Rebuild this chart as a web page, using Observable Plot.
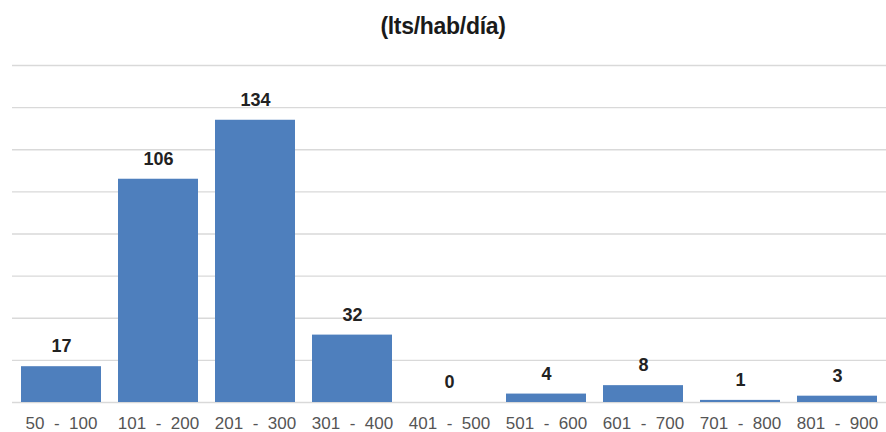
<!DOCTYPE html>
<html>
<head>
<meta charset="utf-8">
<script src="https://cdn.jsdelivr.net/npm/d3@7"></script>
<script src="https://cdn.jsdelivr.net/npm/@observablehq/plot@0.6"></script>
<style>
  body { margin: 0; background: #fff; font-family: "Liberation Sans", Arial, sans-serif; }
  #title { height: 40px; line-height: 52px; text-align: center; font-weight: bold; font-size: 23px; color: #1a1a1a; letter-spacing: -0.3px; }
  #chart svg { display: block; }
</style>
</head>
<body>
<div id="title">(lts/hab/día)</div>
<div id="chart"></div>
<script>
const categories = ["50 - 100", "101 - 200", "201 - 300", "301 - 400", "401 - 500", "501 - 600", "601 - 700", "701 - 800", "801 - 900"];
const values = [17, 106, 134, 32, 0, 4, 8, 1, 3];
const gridTicks = [0, 20, 40, 60, 80, 100, 120, 140, 160];

const data = categories.map((c, i) => ({ range: c, count: values[i] }));

const chart = Plot.plot({
  width: 886,
  height: 392,
  marginLeft: 12,
  marginRight: 0,
  marginTop: 25,
  marginBottom: 30,
  style: { fontFamily: "Liberation Sans, Arial, sans-serif", background: "#fff" },
  x: { domain: categories, paddingInner: 0.175, paddingOuter: 0.0875, label: null },
  y: { domain: [0, 160], axis: null },
  marks: [
    Plot.ruleY(gridTicks, { stroke: "#d9d9d9", strokeWidth: 1.3 }),
    Plot.barY(data, { x: "range", y: "count", fill: "#4e7fbd" }),
    Plot.text(data, { x: "range", y: "count", text: d => String(d.count), dy: -20, fontWeight: "bold", fontSize: 18, fill: "#222" }),
    Plot.axisX({ tickSize: 0, tickPadding: 14, fontSize: 17, fill: "#555", label: null, tickFormat: d => d.replace(" - ", "\u00a0\u00a0-\u00a0\u00a0") })
  ]
});
document.getElementById("chart").appendChild(chart);
</script>
</body>
</html>
